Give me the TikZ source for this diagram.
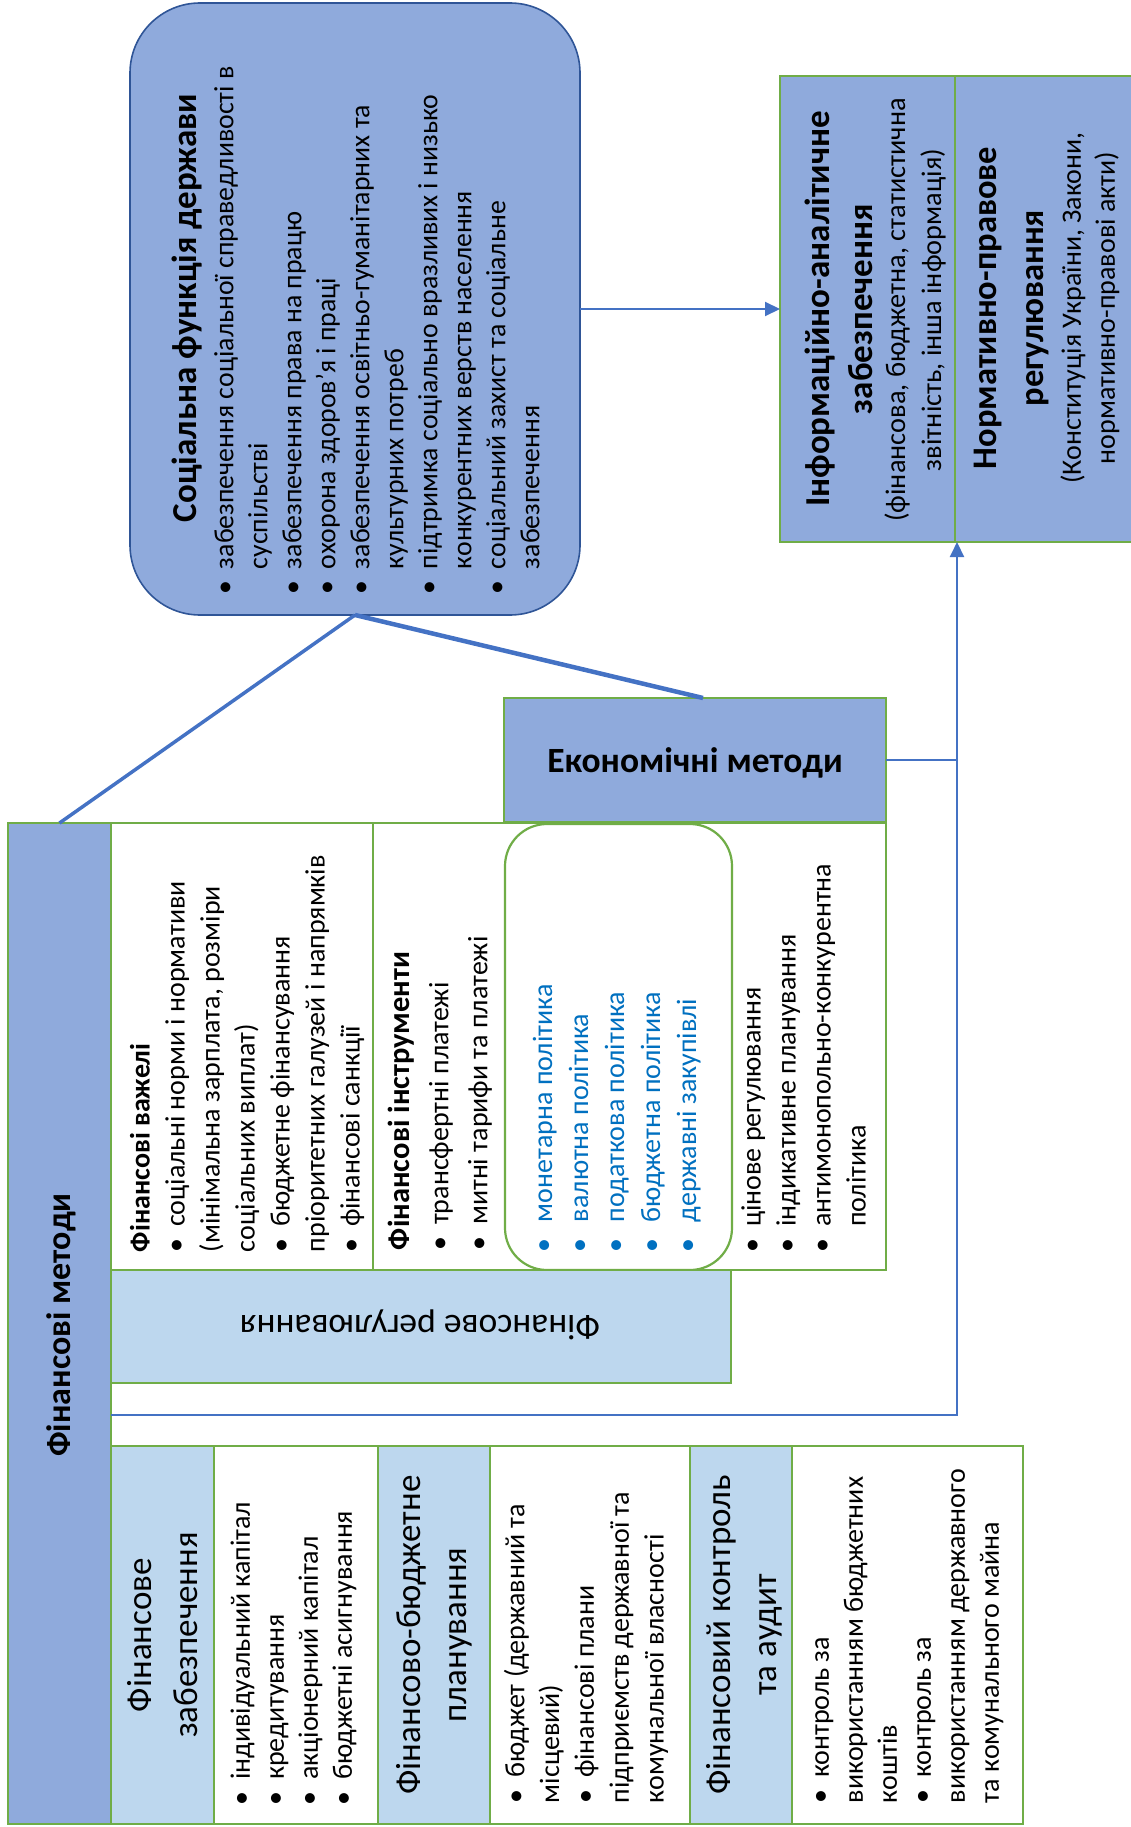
\documentclass[tikz,border=0pt]{standalone}
\usepackage{fontspec}
\setmainfont{Carlito}
\usetikzlibrary{arrows.meta}
\definecolor{dblue}{HTML}{8FAADC}
\definecolor{lblue}{HTML}{BDD7EE}
\definecolor{gbord}{HTML}{70AD47}
\definecolor{lineblue}{HTML}{4472C4}
\definecolor{socbord}{HTML}{2F5597}
\definecolor{listblue}{HTML}{0070C0}
\newcommand\fs[2]{\fontsize{#1}{#2}\selectfont}
\newcommand\bu{\textbullet\hspace{0.4em}}
\newcommand\bbu{\makebox[30pt][l]{\textbullet}}
\begin{document}
\begin{tikzpicture}[x=1pt,y=-1pt,
  gbox/.style={draw=gbord, line width=2.2pt, inner sep=0, outer sep=0, anchor=north west},
  dbox/.style={gbox, fill=dblue},
  lbox/.style={gbox, fill=lblue},
  wbox/.style={gbox, fill=white},
  socbox/.style={draw=socbord, fill=dblue, line width=1.6pt, rounded corners=70pt, inner sep=0, outer sep=0, anchor=north west},
  rtext/.style={rotate=90, inner sep=0, outer sep=0, align=left, anchor=north west},
  ctext/.style={rotate=90, inner sep=0, outer sep=0, align=center},
  conn/.style={draw=lineblue, line width=3.5pt},
  link/.style={draw=lineblue, line width=2pt},
  arrow/.style={link, -{Triangle[length=15pt,width=14pt]}}]
\useasboundingbox (0,0) rectangle (1131,1827);
\clip (0,0) rectangle (1131,1827);
% boxes
\node[socbox, minimum width=450, minimum height=612] (soc) at (130,3) {};
\node[dbox, minimum width=175, minimum height=466] (info) at (780,76) {};
\node[dbox, minimum width=200, minimum height=466] (norm) at (955,76) {};
\node[dbox, minimum width=382, minimum height=124] (econ) at (504,698) {};
\node[dbox, minimum width=103, minimum height=1001] (finmet) at (8,823) {};
\node[wbox, minimum width=262, minimum height=447] (levers) at (111,823) {};
\node[wbox, minimum width=513, minimum height=447] (instr) at (373,823) {};
\node[gbox, rounded corners=42pt, minimum width=227, minimum height=446] (policy) at (505,824) {};
\node[lbox, minimum width=620, minimum height=113] (finreg) at (111,1270) {};
\node[lbox, minimum width=103, minimum height=378] (supbox) at (111,1446) {};
\node[wbox, minimum width=164, minimum height=378] (supitems) at (214,1446) {};
\node[lbox, minimum width=112, minimum height=378] (planbox) at (378,1446) {};
\node[wbox, minimum width=200, minimum height=378] (planitems) at (490,1446) {};
\node[lbox, minimum width=102, minimum height=378] (ctrlbox) at (690,1446) {};
\node[wbox, minimum width=231, minimum height=378] (ctrlitems) at (792,1446) {};
% connectors
\draw[conn] (soc.south) -- (finmet.north);
\draw[conn, line width=4.5pt] (soc.south) -- ([xshift=8pt]econ.north);
\draw[arrow] (soc.east) -- (info.west);
\coordinate (jb) at (957,1415);
\coordinate (je) at (957,760);
\draw[arrow] (finmet.east |- jb) -- (jb) -- (je |- info.south);
\draw[link] (econ.east) -- (je);
% texts
\node[ctext, font=\bfseries\fs{35}{40}] (soctitle) at (187,308) {Соціальна функція держави};
\node[rtext, font=\fs{27.8}{34}] (soclist) at (209.5,594) {\strut\bu забезпечення соціальної справедливості в\\
\phantom{\bu}суспільстві\\
\bu забезпечення права на працю\\
\bu охорона здоров’я і праці\\
\bu забезпечення освітньо-гуманітарних та\\
\phantom{\bu}культурних потреб\\
\bu підтримка соціально вразливих і низько\\
\phantom{\bu}конкурентних верств населення\\
\bu соціальний захист та соціальне\\
\phantom{\bu}забезпечення};
\node[ctext, font=\bfseries\fs{35}{43}] (infotitle) at (838.5,309) {Інформаційно-аналітичне\\забезпечення};
\node[ctext, font=\fs{28.3}{36}] (infosub) at (915,310) {(фінансова, бюджетна, статистична\\звітність, інша інформація)};
\node[ctext, font=\bfseries\fs{34.5}{47}] (normtitle) at (1011.5,308) {Нормативно-правове\\регулювання};
\node[ctext, font=\fs{28}{34}] (normsub) at (1090,308) {(Конституція України, Закони,\\нормативно-правові акти)};
\node[inner sep=0, font=\bfseries\fs{35.5}{40}] (econtext) at (695,763) {Економічні методи};
\node[ctext, font=\bfseries\fs{34}{40}] (finmettext) at (61,1325) {Фінансові методи};
\node[rtext, font=\fs{28}{35}] (levtext) at (125,1252) {\strut\textbf{Фінансові важелі}\\
\bu соціальні норми і нормативи\\
(мінімальна зарплата, розміри\\
соціальних виплат)\\
\bu бюджетне фінансування\\
пріоритетних галузей і напрямків\\
\bu фінансові санкції};
\node[rtext, font=\fs{28}{39}] (instrtext) at (382,1250) {\strut\textbf{\fs{30.5}{39}Фінансові інструменти}\\
\bu трансфертні платежі\\
\bu митні тарифи та платежі};
\node[rtext, font=\fs{28}{36}, text=listblue] (policytext) at (527,1252) {\strut\bbu монетарна політика\\
\bbu валютна політика\\
\bbu податкова політика\\
\bbu бюджетна політика\\
\bbu державні закупівлі};
\node[rtext, font=\fs{28}{35}] (markettext) at (736,1252) {\strut\bu цінове регулювання\\
\bu індикативне планування\\
\bu антимонопольно-конкурентна\\
\phantom{\bu}політика};
\node[rotate=180, inner sep=0, font=\fs{35.5}{40}] (finregtext) at (420,1325) {Фінансове регулювання};
\node[ctext, font=\fs{35}{46}] (suptext) at (162.5,1635) {Фінансове\\забезпечення};
\node[ctext, font=\fs{35}{46}] (plantext) at (434,1635) {Фінансово-бюджетне\\планування};
\node[ctext, font=\fs{35}{46}] (ctrltext) at (744,1635) {Фінансовий контроль\\та аудит};
\node[rtext, font=\fs{28}{34}] (suplist) at (226,1805) {\strut\bu індивідуальний капітал\\
\bu кредитування\\
\bu акціонерний капітал\\
\bu бюджетні асигнування};
\node[rtext, font=\fs{28}{34.8}] (planlist) at (500,1803) {\strut\bu бюджет (державний та\\
місцевий)\\
\bu фінансові плани\\
підприємств державної та\\
комунальної власності};
\node[rtext, font=\fs{28}{34}] (ctrllist) at (805,1803) {\strut\bu контроль за\\
використанням бюджетних\\
коштів\\
\bu контроль за\\
використанням державного\\
та комунального майна};
\end{tikzpicture}
\end{document}
